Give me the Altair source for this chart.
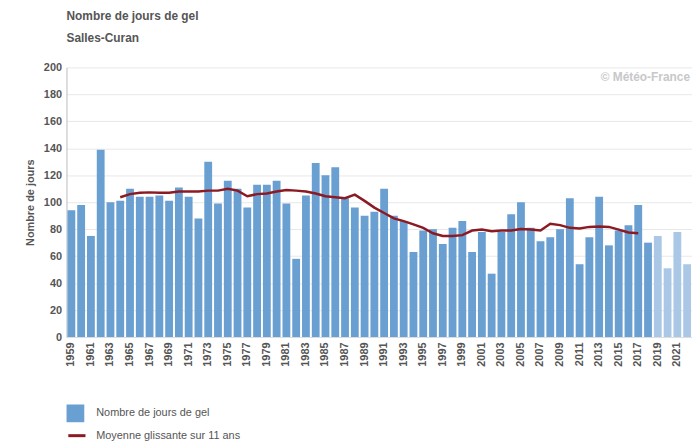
import altair as alt
import pandas as pd

# ---- data ----
years = list(range(1959, 2023))
jours_gel = [94, 98, 75, 139, 100, 101, 110, 104, 104, 105, 101,
             111, 104, 88, 130, 99, 116, 110, 96, 113, 113,
             116, 99, 58, 105, 129, 120, 126, 103, 96, 90,
             93, 110, 90, 86, 63, 79, 80, 69, 81, 86,
             63, 78, 47, 78, 91, 100, 81, 71, 74, 80,
             103, 54, 74, 104, 68, 79, 83, 98, 70, 75,
             51, 78, 54]
provisional_years = [2019, 2020, 2021, 2022]

ma_years = list(range(1964, 2018))
moyenne = [103.7, 106, 107, 107.3, 107, 107,
           108, 108, 108, 108.6, 108.6, 110, 108.6, 104.4, 106, 106.5,
           108, 109, 108.6, 108, 106.5, 104.4, 103.7, 103, 105.6, 101,
           96, 92, 88, 86, 83.6, 81, 77, 75, 75, 75.6,
           79, 79.7, 78.5, 79, 79, 80.2, 79.7, 79, 84, 83,
           81, 80.5, 81.7, 82, 81.7, 79.7, 77.5, 77]

tick_years = [str(y) for y in years[::2]]
y_ticks = [0, 20, 40, 60, 80, 100, 120, 140, 160, 180, 200]

LBL_BAR = "Nombre de jours de gel"
LBL_PROV = "provisoire"
LBL_MA = "Moyenne glissante sur 11 ans"

bars_df = pd.DataFrame({
    "annee": [str(y) for y in years],
    "jours": jours_gel,
    "serie": [LBL_PROV if y in provisional_years else LBL_BAR for y in years],
})
ma_df = pd.DataFrame({
    "annee": [str(y) for y in ma_years],
    "moy": moyenne,
    "serie": [LBL_MA] * len(ma_years),
})

FONT = "Liberation Sans"
GREY = "#555555"

xscale = alt.Scale(domain=[str(y) for y in years], paddingInner=0.2, paddingOuter=0.1)
x_axis = alt.Axis(values=tick_years, labelAngle=-90, title=None,
                  labelFont=FONT, labelFontSize=11, labelFontWeight="bold",
                  labelColor=GREY, ticks=False, domainColor="#dddddd",
                  labelPadding=5)
yscale = alt.Scale(domain=[0, 200], nice=False)
y_axis = alt.Axis(values=y_ticks, title="Nombre de jours", labelOverlap=False,
                  titleFont=FONT, titleFontSize=11, titleFontWeight="bold",
                  titleColor=GREY, titlePadding=8,
                  labelFont=FONT, labelFontSize=11, labelFontWeight="bold",
                  labelColor=GREY, labelPadding=5, ticks=False,
                  grid=True, gridColor="#e8e8e8", domainColor="#bbbbbb")

bars = alt.Chart(bars_df).mark_bar().encode(
    x=alt.X("annee:O", scale=xscale, axis=x_axis),
    y=alt.Y("jours:Q", scale=yscale, axis=y_axis),
    fill=alt.Fill("serie:N",
                  scale=alt.Scale(domain=[LBL_BAR, LBL_PROV], range=["#6a9fd2", "#aac8e6"]),
                  legend=alt.Legend(orient="none", legendX=0, legendY=340, title=None,
                                    values=[LBL_BAR], symbolType="square", symbolSize=320,
                                    symbolStrokeWidth=0,
                                    labelFont=FONT, labelFontSize=11, labelColor=GREY,
                                    labelOffset=12, padding=0)),
)

line = alt.Chart(ma_df).mark_line(strokeWidth=2.5).encode(
    x=alt.X("annee:O", scale=xscale, axis=x_axis),
    y=alt.Y("moy:Q", scale=yscale, axis=y_axis),
    stroke=alt.Stroke("serie:N",
                      scale=alt.Scale(domain=[LBL_MA], range=["#8b1a22"]),
                      legend=alt.Legend(orient="none", legendX=0, legendY=361, title=None,
                                        symbolType="stroke", symbolSize=300,
                                        symbolStrokeWidth=3,
                                        labelFont=FONT, labelFontSize=11, labelColor=GREY,
                                        labelOffset=9, padding=0)),
)

watermark = alt.Chart(pd.DataFrame({"t": ["© Météo-France"]})).mark_text(
    align="right", baseline="middle", font=FONT, fontSize=12, fontWeight="bold",
    color="#c8c8c8"
).encode(text="t:N", x=alt.value(629), y=alt.value(10))

chart = alt.layer(bars, line, watermark).properties(
    width=631,
    height=272,
    title=alt.Title(LBL_BAR, subtitle="Salles-Curan", anchor="start", frame="group",
                    font=FONT, fontSize=12, fontWeight="bold", color=GREY,
                    subtitleFont=FONT, subtitleFontSize=12, subtitleFontWeight="bold",
                    subtitleColor=GREY, subtitlePadding=10, offset=17),
    autosize=alt.AutoSizeParams(type="none"),
    padding={"left": 59, "top": 58, "right": 0, "bottom": 108},
).configure_view(stroke=None)

chart.save("out.html", embed_options={"renderer": "svg", "actions": False})
